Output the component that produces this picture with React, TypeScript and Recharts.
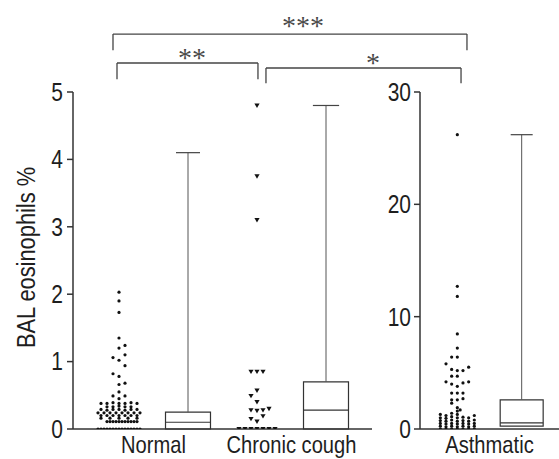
import React from "react";
import {
  ComposedChart,
  XAxis,
  YAxis,
  Scatter,
  ReferenceArea,
  ReferenceLine,
  ReferenceDot,
  Label,
} from "recharts";

// no narrow font installed, so Liberation Sans is squeezed horizontally
const FONT = "'Liberation Sans', Arial, sans-serif";
const SQUEEZE = 0.84;
const INK = "#1e1e1e";
const AXIS = "#333";

const groups = ["Normal", "Chronic cough", "Asthmatic"];
const dotPos = [1, 3, 5]; // scatter column centre on each panel's x axis
const boxPos = [2, 4, 6];

// box plot stats
const boxMin = [0, 0, 0.25];
const boxQ1 = [0, 0, 0.25];
const boxMedian = [0.1, 0.28, 0.55];
const boxQ3 = [0.25, 0.7, 2.6];
const boxMax = [4.1, 4.8, 26.2];

// individual points as [jitter slot, value]
const normalPoints = [
  [0, 2.03], [0, 1.9], [0, 1.73], [0, 1.35], [1, 1.24], [0, 1.2], [1, 1.1], [-1, 1.06],
  [0, 1.02], [1, 0.94], [-1, 0.82], [0, 0.78], [1, 0.68], [0, 0.66], [0, 0.55], [-1, 0.49],
  [1, 0.49], [0, 0.45],
  [-3, 0.38], [-2, 0.38], [-1, 0.39], [0, 0.38], [1, 0.38], [2, 0.39], [3, 0.38],
  [-2, 0.33], [-1, 0.33], [0, 0.34], [1, 0.33], [2, 0.33],
  [-3, 0.29], [-2, 0.28], [-1, 0.29], [0, 0.29], [1, 0.28], [2, 0.29], [3, 0.29],
  [-3.5, 0.24], [-2.5, 0.24], [-1.5, 0.24], [-0.5, 0.24], [0.5, 0.24], [1.5, 0.24], [2.5, 0.24], [3.5, 0.24],
  [-3, 0.2], [-2, 0.2], [-1, 0.2], [0, 0.2], [1, 0.2], [2, 0.2], [3, 0.2],
  [-3, 0.16], [-1.5, 0.16], [0, 0.16], [1.5, 0.16], [3, 0.16],
  [-2, 0.11], [-1.5, 0.11], [-1, 0.11], [-0.5, 0.11], [0, 0.11], [0.5, 0.11], [1, 0.11],
  [1.5, 0.11], [2, 0.11], [2.5, 0.11], [3, 0.11],
  [-3.5, 0], [-3, 0], [-2.5, 0], [-2, 0], [-1.5, 0], [-1, 0], [-0.5, 0], [0, 0],
  [0.5, 0], [1, 0], [1.5, 0], [2, 0], [2.5, 0], [3, 0], [3.5, 0],
];

const coughPoints = [
  [0, 4.8], [0, 3.75], [0, 3.1], [-1, 0.85], [0, 0.85], [1, 0.85], [0, 0.57], [-1, 0.49],
  [0, 0.4], [-1, 0.28], [0, 0.27], [1, 0.28], [2, 0.3], [1, 0.19], [-1, 0.15], [0, 0.11],
  [-3, 0], [-2, 0], [-1, 0], [0, 0], [1, 0], [2, 0], [3, 0],
];

const asthmaPoints = [
  [0, 26.2], [0, 12.7], [0, 11.8], [0, 8.46], [0, 7.2], [-1, 6.4], [0, 6.4], [-2, 5.8],
  [-1, 5.3], [0, 5.2], [1, 5.2], [2, 5.5], [-1, 4.7], [0, 4.7], [-2, 4.2], [-1, 4.0],
  [1, 4.1], [2, 4.2], [0, 3.8], [-1, 3.2], [0, 3.2], [1, 3.2], [-1, 2.6], [0, 2.6],
  [1, 2.7], [-1, 2.3], [0, 1.9], [0.5, 1.7],
  [-3, 0], [-3, 0.25], [-3, 0.5], [-3, 0.75], [-3, 1.0], [-3, 1.3],
  [-2, 0], [-2, 0.2], [-2, 0.45], [-2, 0.7], [-2, 0.95], [-2, 1.2],
  [-1, 0], [-1, 0.25], [-1, 0.5], [-1, 0.8], [-1, 1.1], [-1, 1.4],
  [0, 0], [0, 0.2], [0, 0.45], [0, 0.7], [0, 1.0], [0, 1.3], [0, 1.6],
  [1, 0], [1, 0.25], [1, 0.5], [1, 0.75], [1, 1.05],
  [2, 0], [2, 0.2], [2, 0.45], [2, 0.7], [2, 1.0],
  [3, 0], [3, 0.25], [3, 0.5], [3, 0.8], [3, 1.2],
];

// significance brackets (left panel units)
const bracketText = ["***", "**", "*"];
const bracketX1 = [0.913, 0.971, 3.13];
const bracketX2 = [6.043, 3.014, 5.957];
const bracketTop = [5.86, 5.43, 5.356];
const bracketFoot = [5.62, 5.19, 5.13];
const bracketTextX = [3.667, 2.058, 4.681];
const bracketTextY = [5.994, 5.519, 5.445];

const toXY = (pts: number[][], centre: number, step: number) =>
  pts.map(([s, v]) => ({ x: centre + s * step, y: v }));

const Triangle = (p: any) => (
  <polygon
    points={`${p.cx - 2.6},${p.cy - 2} ${p.cx + 2.6},${p.cy - 2} ${p.cx},${p.cy + 2.4}`}
    fill="#111"
  />
);

const Dot = (p: any) => <circle cx={p.cx} cy={p.cy} r={1.6} fill="#111" />;

const NarrowTick = (p: any) => {
  const { x, y, payload, textAnchor, tickFormatter, fontSize, vertical } = p;
  const label = tickFormatter ? tickFormatter(payload.value, payload.index) : payload.value;
  return (
    <g transform={`translate(${x}, ${y}) scale(${SQUEEZE}, 1)`}>
      <text
        x={0}
        y={0}
        dy={vertical ? "0.355em" : "0.71em"}
        textAnchor={textAnchor}
        fontSize={fontSize}
        fontFamily={FONT}
        fill={INK}
      >
        {label}
      </text>
    </g>
  );
};

const renderBox = (i: number, half: number, capHalf: number) => {
  const c = boxPos[i];
  return [
    <ReferenceLine
      key={`w${i}`}
      segment={[{ x: c, y: boxQ3[i] }, { x: c, y: boxMax[i] }]}
      stroke="#555"
      strokeWidth={1}
      ifOverflow="visible"
    />,
    <ReferenceLine
      key={`c${i}`}
      segment={[{ x: c - capHalf, y: boxMax[i] }, { x: c + capHalf, y: boxMax[i] }]}
      stroke="#444"
      strokeWidth={1.2}
      ifOverflow="visible"
    />,
    <ReferenceLine
      key={`lw${i}`}
      segment={[{ x: c, y: boxMin[i] }, { x: c, y: boxQ1[i] }]}
      stroke="#555"
      ifOverflow="visible"
    />,
    <ReferenceArea
      key={`b${i}`}
      x1={c - half}
      x2={c + half}
      y1={boxQ1[i]}
      y2={boxQ3[i]}
      fill="#fff"
      fillOpacity={1}
      stroke="#333"
      strokeWidth={1.2}
      ifOverflow="visible"
    />,
    <ReferenceLine
      key={`m${i}`}
      segment={[{ x: c - half, y: boxMedian[i] }, { x: c + half, y: boxMedian[i] }]}
      stroke="#333"
      strokeWidth={1.2}
      ifOverflow="visible"
    />,
  ];
};

const App: React.FC = () => {
  const leftNames: Record<number, string> = { 1.5: groups[0], 3.5: groups[1] };
  return (
    <div style={{ position: "absolute", left: 0, top: 0, width: 559, height: 459, background: "#fff" }}>
      <div style={{ position: "absolute", left: 0, top: 0 }}>
        <ComposedChart width={559} height={459} margin={{ top: 92, right: 187, bottom: 0, left: 0 }}>
          <XAxis
            type="number"
            dataKey="x"
            domain={[1 / 3, 14 / 3]}
            ticks={[1.5, 3.5]}
            tickFormatter={(v: number) => leftNames[v] ?? ""}
            tickLine={false}
            tickSize={0}
            tickMargin={7}
            height={30}
            stroke={AXIS}
            strokeWidth={1.5}
            tick={<NarrowTick fontSize={24} />}
            allowDataOverflow
          />
          <YAxis
            type="number"
            dataKey="y"
            domain={[0, 5]}
            ticks={[0, 1, 2, 3, 4, 5]}
            width={73}
            tickSize={6}
            tickMargin={4}
            stroke={AXIS}
            strokeWidth={1.5}
            tick={<NarrowTick fontSize={25} vertical />}
            allowDataOverflow
          >
            <Label
              content={(props: any) => {
                const vb = props.viewBox || { x: 0, y: 92, height: 337 };
                const cx = vb.x + 26;
                const cy = vb.y + vb.height / 2 - 3;
                return (
                  <g transform={`translate(${cx}, ${cy}) rotate(-90) scale(${SQUEEZE}, 1)`}>
                    <text
                      x={0}
                      y={0}
                      dy="0.355em"
                      textAnchor="middle"
                      fontSize={26}
                      fontFamily={FONT}
                      fill={INK}
                    >
                      BAL eosinophils %
                    </text>
                  </g>
                );
              }}
            />
          </YAxis>
          {renderBox(0, 0.326, 0.174)}
          {renderBox(1, 0.326, 0.19)}
          <Scatter
            data={toXY(normalPoints, dotPos[0], 0.087)}
            shape={Dot}
            isAnimationActive={false}
          />
          <Scatter
            data={toXY(coughPoints, dotPos[1], 0.087)}
            shape={Triangle}
            isAnimationActive={false}
          />
          {bracketText.map((t, i) => [
            <ReferenceLine
              key={`bt${i}`}
              segment={[{ x: bracketX1[i], y: bracketTop[i] }, { x: bracketX2[i], y: bracketTop[i] }]}
              stroke="#444"
              strokeWidth={1.3}
              ifOverflow="visible"
            />,
            <ReferenceLine
              key={`bl${i}`}
              segment={[{ x: bracketX1[i], y: bracketTop[i] }, { x: bracketX1[i], y: bracketFoot[i] }]}
              stroke="#444"
              strokeWidth={1.3}
              ifOverflow="visible"
            />,
            <ReferenceLine
              key={`br${i}`}
              segment={[{ x: bracketX2[i], y: bracketTop[i] }, { x: bracketX2[i], y: bracketFoot[i] }]}
              stroke="#444"
              strokeWidth={1.3}
              ifOverflow="visible"
            />,
            <ReferenceDot
              key={`bd${i}`}
              x={bracketTextX[i]}
              y={bracketTextY[i]}
              r={0}
              fill="none"
              stroke="none"
              ifOverflow="visible"
              label={{
                value: t,
                position: "center",
                fontSize: 28,
                fontFamily: "'Liberation Serif', serif",
                fill: "#4a4a4a",
              }}
            />,
          ])}
        </ComposedChart>
      </div>
      <div style={{ position: "absolute", left: 372, top: 0 }}>
        <ComposedChart width={187} height={459} margin={{ top: 92, right: 0, bottom: 0, left: 0 }}>
          <XAxis
            type="number"
            dataKey="x"
            domain={[4.42, 6.58]}
            ticks={[5.5]}
            tickFormatter={() => groups[2]}
            tickLine={false}
            tickSize={0}
            tickMargin={7}
            height={30}
            stroke={AXIS}
            strokeWidth={1.5}
            tick={<NarrowTick fontSize={24} />}
            allowDataOverflow
          />
          <YAxis
            type="number"
            dataKey="y"
            domain={[0, 30]}
            ticks={[0, 10, 20, 30]}
            width={48}
            tickSize={6}
            tickMargin={3}
            stroke={AXIS}
            strokeWidth={1.5}
            tick={<NarrowTick fontSize={25} vertical />}
            allowDataOverflow
          />
          {renderBox(2, 0.334, 0.171)}
          <Scatter
            data={toXY(asthmaPoints, dotPos[2], 0.088)}
            shape={Dot}
            isAnimationActive={false}
          />
        </ComposedChart>
      </div>
    </div>
  );
};

export default App;
